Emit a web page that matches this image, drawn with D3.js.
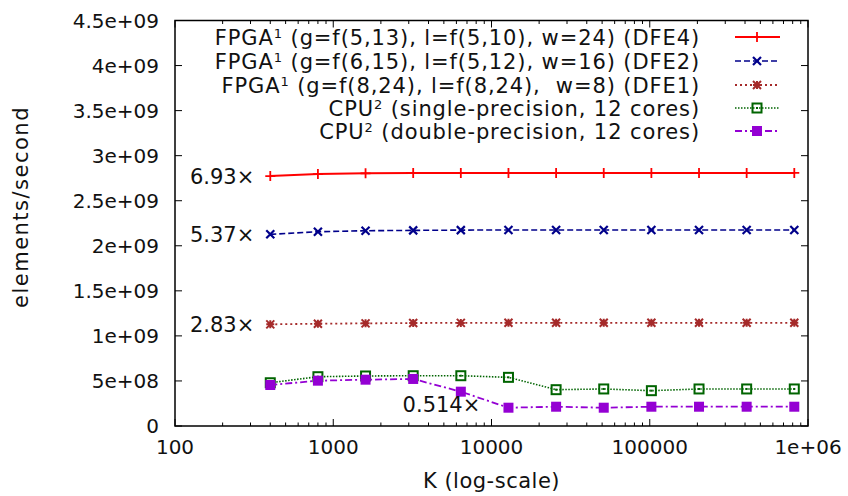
<!DOCTYPE html>
<html>
<head>
<meta charset="utf-8">
<script src="https://cdn.jsdelivr.net/npm/d3@7"></script>
<style>
  body { margin: 0; background: #fff; }
  text { font-family: "DejaVu Sans", "Liberation Sans", sans-serif; fill: #111; }
</style>
</head>
<body>
<div id="chart"></div>
<script>
// problem size (x axis)
var K = [400, 800, 1600, 3200, 6400, 12800, 25600, 51200, 102400, 204800, 409600, 819200];

// elements/second, one array per configuration
var dfe4 = [2.774e9, 2.796e9, 2.804e9, 2.808e9, 2.808e9, 2.808e9, 2.808e9, 2.808e9, 2.808e9, 2.808e9, 2.808e9, 2.808e9];
var dfe2 = [2.127e9, 2.156e9, 2.167e9, 2.171e9, 2.174e9, 2.175e9, 2.175e9, 2.175e9, 2.175e9, 2.175e9, 2.175e9, 2.175e9];
var dfe1 = [1.128e9, 1.135e9, 1.139e9, 1.143e9, 1.144e9, 1.145e9, 1.145e9, 1.145e9, 1.145e9, 1.145e9, 1.145e9, 1.145e9];
var cpuSingle = [0.480e9, 0.547e9, 0.555e9, 0.558e9, 0.558e9, 0.540e9, 0.403e9, 0.411e9, 0.392e9, 0.411e9, 0.411e9, 0.411e9];
var cpuDouble = [0.455e9, 0.503e9, 0.514e9, 0.522e9, 0.381e9, 0.203e9, 0.214e9, 0.203e9, 0.214e9, 0.214e9, 0.214e9, 0.214e9];

// legend text: [main, superscript, rest]
var legendLabels = [
  ['FPGA', '1', ' (g=f(5,13), l=f(5,10), w=24) (DFE4)'],
  ['FPGA', '1', ' (g=f(6,15), l=f(5,12), w=16) (DFE2)'],
  ['FPGA', '1', ' (g=f(8,24), l=f(8,24), \u00a0w=8) (DFE1)'],
  ['CPU', '2', ' (single-precision, 12 cores)'],
  ['CPU', '2', ' (double-precision, 12 cores)']
];

var yTicks = [0, 0.5e9, 1e9, 1.5e9, 2e9, 2.5e9, 3e9, 3.5e9, 4e9, 4.5e9];
var yTickLabels = ['0', '5e+08', '1e+09', '1.5e+09', '2e+09', '2.5e+09', '3e+09', '3.5e+09', '4e+09', '4.5e+09'];
var xTicks = [100, 1000, 10000, 100000, 1000000];
var xTickLabels = ['100', '1000', '10000', '100000', '1e+06'];

// speed-up notes: text, K, value
var noteText = ['6.93\u00d7', '5.37\u00d7', '2.83\u00d7', '0.514\u00d7'];
var noteK = [400, 400, 400, 8500];
var noteV = [dfe4[0], dfe2[0], dfe1[0], 0.235e9];

var width = 848, height = 496;
var plotLeft = 175, plotRight = 808, plotTop = 20.5, plotBottom = 426;

var svg = d3.select('#chart').append('svg')
  .attr('width', width)
  .attr('height', height);

var x = d3.scaleLog().domain([100, 1e6]).range([plotLeft, plotRight]);
var y = d3.scaleLinear().domain([0, 4.5e9]).range([plotBottom, plotTop]);

// minor ticks on the log axis
var xMinor = [];
for (var d = 100; d < 1e6; d *= 10) {
  for (var m = 2; m <= 9; m++) xMinor.push(d * m);
}

var axes = svg.append('g').attr('stroke', '#000').attr('stroke-width', 1);

// ticks on all four sides, pointing in
yTicks.forEach(function(t) {
  axes.append('line').attr('x1', plotLeft).attr('x2', plotLeft + 7).attr('y1', y(t)).attr('y2', y(t));
  axes.append('line').attr('x1', plotRight).attr('x2', plotRight - 7).attr('y1', y(t)).attr('y2', y(t));
});
xTicks.forEach(function(t) {
  axes.append('line').attr('x1', x(t)).attr('x2', x(t)).attr('y1', plotBottom).attr('y2', plotBottom - 7);
  axes.append('line').attr('x1', x(t)).attr('x2', x(t)).attr('y1', plotTop).attr('y2', plotTop + 7);
});
xMinor.forEach(function(t) {
  axes.append('line').attr('x1', x(t)).attr('x2', x(t)).attr('y1', plotBottom).attr('y2', plotBottom - 3.5);
  axes.append('line').attr('x1', x(t)).attr('x2', x(t)).attr('y1', plotTop).attr('y2', plotTop + 3.5);
});

// tick labels
svg.selectAll('.ylab').data(yTicks).enter().append('text')
  .attr('x', plotLeft - 16)
  .attr('y', function(d) { return y(d); })
  .attr('dy', '0.36em')
  .attr('text-anchor', 'end')
  .attr('font-size', 20)
  .text(function(d, i) { return yTickLabels[i]; });

svg.selectAll('.xlab').data(xTicks).enter().append('text')
  .attr('x', function(d) { return x(d); })
  .attr('y', plotBottom + 28)
  .attr('text-anchor', 'middle')
  .attr('font-size', 20)
  .text(function(d, i) { return xTickLabels[i]; });

svg.append('text')
  .attr('x', (plotLeft + plotRight) / 2)
  .attr('y', 488)
  .attr('text-anchor', 'middle')
  .attr('font-size', 21)
  .attr('letter-spacing', 0.5)
  .text('K (log-scale)');

svg.append('text')
  .attr('transform', 'translate(28,' + 207 + ') rotate(-90)')
  .attr('text-anchor', 'middle')
  .attr('font-size', 21)
  .attr('letter-spacing', 1.5)
  .text('elements/second');

// series styling
var series = [
  { values: dfe4, color: '#ff0000', dash: null, width: 2, marker: 'plus' },
  { values: dfe2, color: '#00008b', dash: '6,3', width: 1.6, marker: 'cross' },
  { values: dfe1, color: '#a52a2a', dash: '2,3', width: 1.8, marker: 'star' },
  { values: cpuSingle, color: '#006400', dash: '1.5,1.5', width: 1.6, marker: 'openSquare' },
  { values: cpuDouble, color: '#9400d3', dash: '7,3,2,3', width: 1.8, marker: 'square' }
];

var line = d3.line()
  .x(function(d, i) { return x(K[i]); })
  .y(function(d) { return y(d); });

function drawMarker(g, type, cx, cy, color) {
  var s = 5;
  if (type === 'plus') {
    g.append('path').attr('d', 'M' + (cx - s) + ',' + cy + 'H' + (cx + s) + 'M' + cx + ',' + (cy - s) + 'V' + (cy + s))
      .attr('stroke', color).attr('stroke-width', 1.8).attr('fill', 'none');
  } else if (type === 'cross') {
    s = 4;
    g.append('path').attr('d', 'M' + (cx - s) + ',' + (cy - s) + 'L' + (cx + s) + ',' + (cy + s) + 'M' + (cx - s) + ',' + (cy + s) + 'L' + (cx + s) + ',' + (cy - s))
      .attr('stroke', color).attr('stroke-width', 2.2).attr('fill', 'none');
  } else if (type === 'star') {
    s = 4;
    g.append('path').attr('d', 'M' + (cx - s) + ',' + cy + 'H' + (cx + s) + 'M' + cx + ',' + (cy - s) + 'V' + (cy + s) +
      'M' + (cx - s) + ',' + (cy - s) + 'L' + (cx + s) + ',' + (cy + s) + 'M' + (cx - s) + ',' + (cy + s) + 'L' + (cx + s) + ',' + (cy - s))
      .attr('stroke', color).attr('stroke-width', 2).attr('fill', 'none');
  } else if (type === 'openSquare') {
    s = 4.5;
    g.append('rect').attr('x', cx - s).attr('y', cy - s).attr('width', 2 * s).attr('height', 2 * s)
      .attr('stroke', color).attr('stroke-width', 2).attr('fill', 'none');
    g.append('rect').attr('x', cx - 1).attr('y', cy - 1).attr('width', 2).attr('height', 2).attr('fill', color);
  } else {
    s = 5;
    g.append('rect').attr('x', cx - s).attr('y', cy - s).attr('width', 2 * s).attr('height', 2 * s)
      .attr('fill', color);
  }
}

series.forEach(function(sr) {
  svg.append('path')
    .datum(sr.values)
    .attr('d', line)
    .attr('fill', 'none')
    .attr('stroke', sr.color)
    .attr('stroke-width', sr.width)
    .attr('stroke-dasharray', sr.dash);
  var g = svg.append('g');
  sr.values.forEach(function(v, i) {
    drawMarker(g, sr.marker, x(K[i]), y(v), sr.color);
  });
});

// legend
var legY = [37, 61, 85, 108, 131];
legendLabels.forEach(function(lab, i) {
  var t = svg.append('text')
    .attr('x', 700)
    .attr('y', legY[i])
    .attr('dy', '0.36em')
    .attr('text-anchor', 'end')
    .attr('font-size', 21)
    .attr('letter-spacing', 0.9);
  t.append('tspan').text(lab[0]);
  t.append('tspan').attr('font-size', 13).attr('dy', '-7').text(lab[1]);
  t.append('tspan').attr('dy', '7').text(lab[2]);

  var sr = series[i];
  svg.append('line')
    .attr('x1', 735).attr('x2', 780)
    .attr('y1', legY[i]).attr('y2', legY[i])
    .attr('stroke', sr.color)
    .attr('stroke-width', sr.width)
    .attr('stroke-dasharray', sr.dash);
  drawMarker(svg.append('g'), sr.marker, 757, legY[i], sr.color);
});

// speed-up notes
noteText.forEach(function(txt, i) {
  svg.append('text')
    .attr('x', x(noteK[i]) - (i < 3 ? 16 : 0))
    .attr('y', y(noteV[i]))
    .attr('dy', '0.36em')
    .attr('text-anchor', 'end')
    .attr('font-size', 21)
    .text(txt);
});

// frame on top
svg.append('rect')
  .attr('x', plotLeft).attr('y', plotTop)
  .attr('width', plotRight - plotLeft).attr('height', plotBottom - plotTop)
  .attr('fill', 'none')
  .attr('stroke', '#000')
  .attr('stroke-width', 1.5);
</script>
</body>
</html>
